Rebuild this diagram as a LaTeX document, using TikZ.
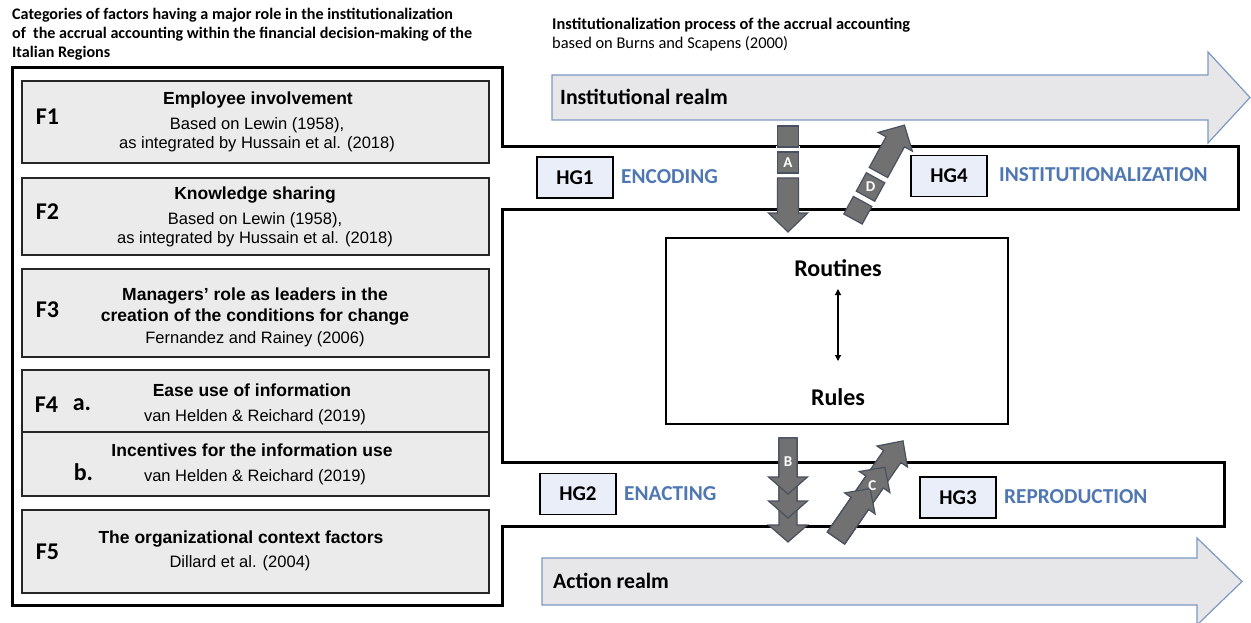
\documentclass[tikz,border=0pt]{standalone}
\usepackage{fontspec}
\setmainfont{Carlito}
\newfontfamily\arialfont{Liberation Sans}
\usetikzlibrary{arrows.meta}

\definecolor{boxgray}{HTML}{EBEBEB}
\definecolor{hgfill}{HTML}{E9EEF8}
\definecolor{realmfill}{HTML}{E7E7EA}
\definecolor{realmline}{HTML}{7E98C2}
\definecolor{phasecol}{HTML}{4F77B3}
\definecolor{blockfill}{HTML}{717171}
\definecolor{blockline}{HTML}{495060}

\newcommand{\setfs}[2]{\fontsize{#1}{#2}\selectfont}

\tikzset{
  frame/.style={draw=black, line width=3pt, line join=miter},
  fbox/.style={draw=black!85, fill=boxgray, line width=2pt, anchor=north west, inner sep=0pt},
  fhead/.style={font=\arialfont\bfseries\setfs{17.5}{21}, align=center, inner sep=0pt},
  fcite/.style={font=\arialfont\setfs{16.5}{19}, align=center, inner sep=0pt},
  flabel/.style={font=\bfseries\setfs{24}{28}, inner sep=0pt},
  hgbox/.style={draw=black, fill=hgfill, line width=1.8pt, minimum width=76pt, minimum height=41pt, inner sep=0pt, font=\bfseries\setfs{21}{24}},
  phase/.style={font=\bfseries\setfs{21.3}{24}, text=phasecol, anchor=west, inner sep=0pt},
  realm/.style={draw=realmline, fill=realmfill, line width=1.2pt, line join=miter},
  realmtext/.style={font=\bfseries\setfs{21.8}{24}, anchor=west, inner sep=0pt},
  blk/.style={draw=blockline, fill=blockfill, line width=1.2pt, line join=miter},
  blkgap/.style={fill=white, draw=none},
  blklabel/.style={text=white, font=\bfseries\setfs{15}{17}, inner sep=0pt},
  titletext/.style={font=\bfseries\setfs{16.1}{19}, anchor=west, inner sep=0pt},
  ruletext/.style={font=\bfseries\setfs{24}{28}, inner sep=0pt},
}

\begin{document}
\begin{tikzpicture}[x=1pt, y=-1pt]
\useasboundingbox (0,0) rectangle (1251,623);

% headings
\node[titletext] (t1) at (12,15) {Categories of factors having a major role in the institutionalization};
\node[titletext] (t2) at (12,34) {of\ \ the accrual accounting within the financial decision-making of the};
\node[titletext] (t3) at (12,53) {Italian Regions};
\node[titletext, font=\bfseries\setfs{16.4}{19}] (p1) at (552,25) {Institutionalization process of the accrual accounting};
\node[titletext, font=\setfs{16.4}{19}] (p2) at (552,44) {based on Burns and Scapens (2000)};

% realm arrows
\path[realm] (552,75) -- (1208,75) -- (1208,52) -- (1250,97.5) -- (1208,143) -- (1208,120) -- (552,120) -- cycle;
\node[realmtext] (inst) at (560,97) {Institutional realm};
\path[realm] (542,558) -- (1197,558) -- (1197,538) -- (1242,581.5) -- (1197,625) -- (1197,605) -- (542,605) -- cycle;
\node[realmtext] (act) at (553,581) {Action realm};

% stepped frame around the factors and the phase bands
\draw[frame] (12,68) -- (502,68) -- (502,147) -- (1238,147) -- (1238,209) -- (502,209)
  -- (502,462) -- (1224,462) -- (1224,526) -- (502,526) -- (502,605) -- (12,605) -- cycle;

% factor boxes
\node[fbox, minimum width=467pt, minimum height=82pt] (f1) at (21,80) {};
\node[fbox, minimum width=467pt, minimum height=77pt] (f2) at (21,177) {};
\node[fbox, minimum width=467pt, minimum height=88pt] (f3) at (21,268) {};
\node[fbox, minimum width=467pt, minimum height=62pt] (f4a) at (21,369) {};
\node[fbox, minimum width=467pt, minimum height=64pt] (f4b) at (21,431) {};
\node[fbox, minimum width=467pt, minimum height=83pt] (f5) at (21,509) {};

\node[flabel] (f1l) at (47.5,117) {F1};
\node[fhead] (f1h) at (258,100) {Employee involvement};
\node[fcite] (f1c) at (257,135) {Based on Lewin (1958),\\as integrated by Hussain et al. (2018)};

\node[flabel] (f2l) at (47.5,212) {F2};
\node[fhead] (f2h) at (255,195) {Knowledge sharing};
\node[fcite] (f2c) at (255,230) {Based on Lewin (1958),\\as integrated by Hussain et al. (2018)};

\node[flabel] (f3l) at (47.5,310) {F3};
\node[fhead] (f3h) at (255,306.5) {Managers’ role as leaders in the\\creation of the conditions for change};
\node[fcite] (f3c) at (255,339) {Fernandez and Rainey (2006)};

\node[flabel] (f4l) at (46.5,405) {F4};
\node[flabel] (f4al) at (82,405) {a.};
\node[fhead] (f4ah) at (252,390) {Ease use of information};
\node[fcite] (f4ac) at (255,417) {van Helden \& Reichard (2019)};
\node[flabel] (f4bl) at (83.5,472) {b.};
\node[fhead] (f4bh) at (252,450) {Incentives for the information use};
\node[fcite] (f4bc) at (255,477) {van Helden \& Reichard (2019)};

\node[flabel] (f5l) at (47.5,552) {F5};
\node[fhead] (f5h) at (241,539) {The organizational context factors};
\node[fcite] (f5c) at (240,563) {Dillard et al. (2004)};

% hypothesis groups
\node[hgbox] (hg1) at (575,177.5) {HG1};
\node[phase] (enc) at (621,177) {ENCODING};
\node[hgbox] (hg4) at (949,176) {HG4};
\node[phase] (ins) at (999,175) {INSTITUTIONALIZATION};
\node[hgbox] (hg2) at (578,494) {HG2};
\node[phase] (ena) at (624,494) {ENACTING};
\node[hgbox] (hg3) at (958,497.5) {HG3};
\node[phase] (rep) at (1004,497) {REPRODUCTION};

% routines and rules
\node[draw=black, line width=2pt, fill=white, minimum width=342pt, minimum height=186pt, anchor=north west] (rbox) at (665,237) {};
\node[ruletext] (rt) at (838,268) {Routines};
\node[ruletext] (ru) at (838,397) {Rules};
\coordinate (rr1) at (838,289);
\coordinate (rr2) at (838,361);
\draw[line width=1.1pt, {Triangle[length=6pt,width=6pt]}-{Triangle[length=6pt,width=6pt]}] (rr1) -- (rr2);

% block arrow A: encoding
\begin{scope}[shift={(788,126)}, rotate=-90]
  \path[blkgap] (20,-12) rectangle (27,12);
  \path[blkgap] (46,-12) rectangle (53,12);
  \path[blk] (0,-10.5) rectangle (21,10.5);
  \path[blk] (26,-10.5) rectangle (47,10.5);
  \path[blk] (52,-10.5) -- (87,-10.5) -- (87,-19.5) -- (106,0) -- (87,19.5) -- (87,10.5) -- (52,10.5) -- cycle;
  \node[blklabel] (la) at (36.5,0) {A};
\end{scope}

% block arrow D: institutionalization
\begin{scope}[shift={(853,219)}, rotate=61.3]
  \path[blkgap] (19,-12) rectangle (27,12);
  \path[blkgap] (46,-12) rectangle (54,12);
  \path[blk] (0,-10.5) rectangle (20,10.5);
  \path[blk] (26,-10.5) rectangle (47,10.5);
  \path[blk] (53,-10.5) -- (88,-10.5) -- (88,-19.5) -- (107,0) -- (88,19.5) -- (88,10.5) -- (53,10.5) -- cycle;
  \node[blklabel] (ld) at (36.5,0) {D};
\end{scope}

% block arrow B: enacting
\begin{scope}[shift={(788,438)}, rotate=-90]
  \path[blk] (0,-9) -- (87,-9) -- (87,-19.5) -- (104,0) -- (87,19.5) -- (87,9) -- (0,9) -- cycle;
  \path[blk] (0,-9) -- (63,-9) -- (63,-19.5) -- (80,0) -- (63,19.5) -- (63,9) -- (0,9) -- cycle;
  \path[blk] (0,-9) -- (39,-9) -- (39,-19.5) -- (56,0) -- (39,19.5) -- (39,9) -- (0,9) -- cycle;
  \node[blklabel] (lb) at (24,0) {B};
\end{scope}

% block arrow C: reproduction
\begin{scope}[shift={(836,538)}, rotate=55.4]
  \path[blk] (0,-10.5) -- (99,-10.5) -- (99,-18.5) -- (118,0) -- (99,18.5) -- (99,10.5) -- (0,10.5) -- cycle;
  \path[blk] (0,-10.5) -- (68,-10.5) -- (68,-18.5) -- (86,0) -- (68,18.5) -- (68,10.5) -- (0,10.5) -- cycle;
  \path[blk] (0,-10.5) -- (42,-10.5) -- (42,-18.5) -- (60,0) -- (42,18.5) -- (42,10.5) -- (0,10.5) -- cycle;
  \node[blklabel] (lc) at (64,0) {C};
\end{scope}

\end{tikzpicture}
\end{document}
